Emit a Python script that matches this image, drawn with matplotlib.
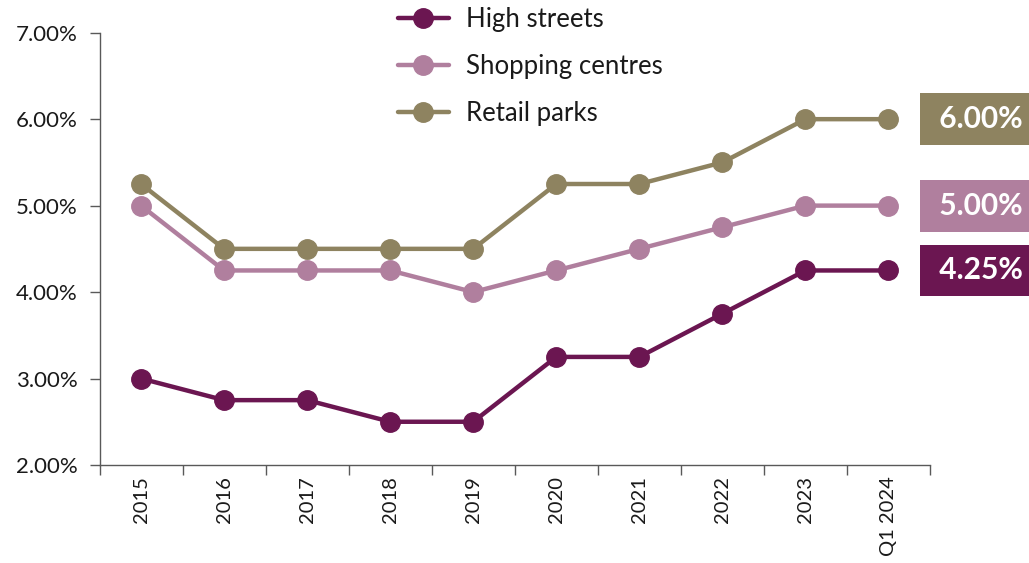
import matplotlib.pyplot as plt
import matplotlib.transforms as mtransforms
from matplotlib.ticker import FixedLocator, FuncFormatter

plt.rcParams['font.family'] = ['Lato', 'DejaVu Sans']

years = ['2015', '2016', '2017', '2018', '2019', '2020', '2021', '2022', '2023', 'Q1 2024']
high_streets = [3.00, 2.75, 2.75, 2.50, 2.50, 3.25, 3.25, 3.75, 4.25, 4.25]
shopping_centres = [5.00, 4.25, 4.25, 4.25, 4.00, 4.25, 4.50, 4.75, 5.00, 5.00]
retail_parks = [5.25, 4.50, 4.50, 4.50, 4.50, 5.25, 5.25, 5.50, 6.00, 6.00]

series = [
    ('High streets', high_streets, '#6b1651'),
    ('Shopping centres', shopping_centres, '#b07f9e'),
    ('Retail parks', retail_parks, '#8e8360'),
]

fig = plt.figure(figsize=(10.29, 5.63), dpi=100)
ax = fig.add_axes([0.0967, 0.1741, 0.8071, 0.7678])

x = list(range(len(years)))
handles = []
for name, vals, col in series:
    h, = ax.plot(x, vals, color=col, lw=3.2, marker='o', markersize=14,
                 label=name, solid_capstyle='round')
    handles.append(h)

ax.set_xlim(-0.5, len(years) - 0.5)
ax.set_ylim(2, 7)
ax.set_yticks([2, 3, 4, 5, 6, 7])
ax.yaxis.set_major_formatter(FuncFormatter(lambda v, p: f'{v:.2f}%'))
ax.set_xticks(x)
ax.set_xticklabels(years, rotation=90)
ax.xaxis.set_minor_locator(FixedLocator([i - 0.5 for i in range(len(years) + 1)]))
ax.tick_params(axis='x', which='major', length=0, pad=8, labelsize=14.5, colors='#1a1a1a')
ax.tick_params(axis='x', which='minor', length=7, color='#595959', width=1)
ax.tick_params(axis='y', length=7, color='#595959', width=1, labelsize=16,
               pad=9, labelcolor='#1a1a1a')

for s in ['top', 'right']:
    ax.spines[s].set_visible(False)
for s in ['left', 'bottom']:
    ax.spines[s].set_color('#595959')
    ax.spines[s].set_linewidth(1)

# legend above the plot area
fig.legend(handles=handles, loc='upper left', bbox_to_anchor=(0.364, 1.028),
           frameon=False, fontsize=18.5, handlelength=2.0, labelspacing=0.84,
           handletextpad=0.65, labelcolor='#1a1a1a')

# end-value tags on the right edge
trans = mtransforms.blended_transform_factory(fig.transFigure, ax.transData)
for name, vals, col in series:
    ax.text(0.9057, vals[-1], f' {vals[-1]:.2f}%', transform=trans, ha='left',
            va='center', color='white', fontsize=21.5, fontweight='bold',
            clip_on=False,
            bbox=dict(boxstyle='square,pad=0.4', fc=col, ec='none'))

fig.savefig('out.png', dpi=100)
